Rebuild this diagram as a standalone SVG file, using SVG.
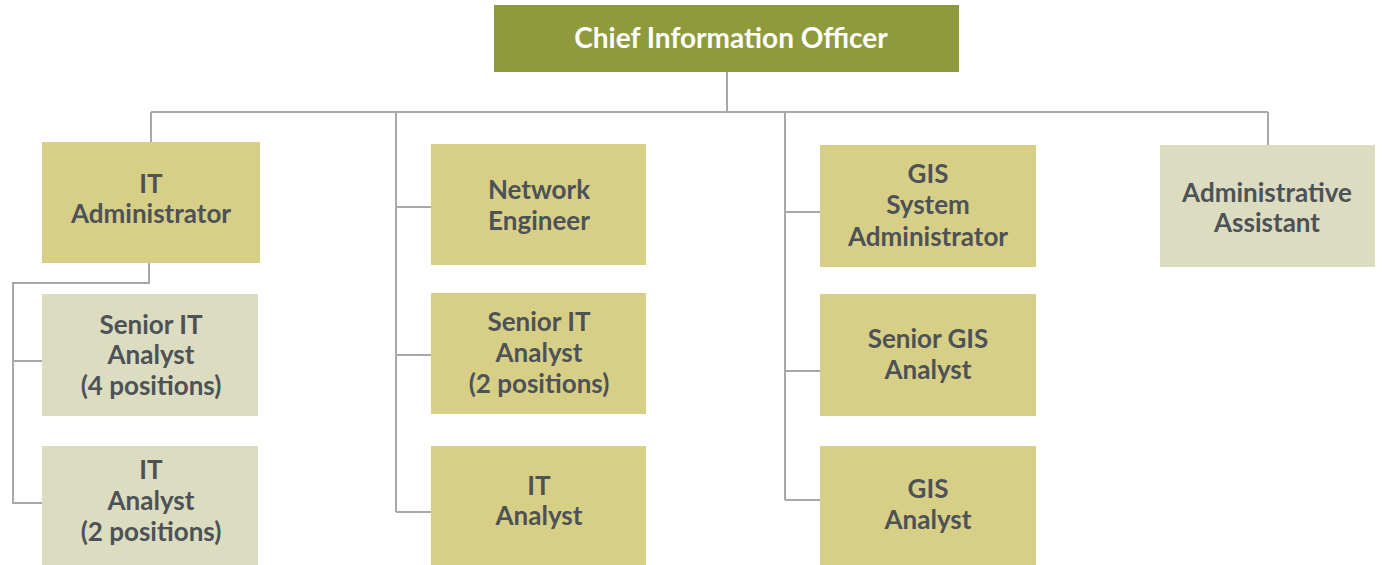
<svg xmlns="http://www.w3.org/2000/svg" width="1382" height="565" viewBox="0 0 1382 565">
<style>
.t{font-family:Lato,"Liberation Sans",sans-serif;font-weight:bold;font-size:26px;fill:#4d5257;text-anchor:middle}
.top{font-family:Lato,"Liberation Sans",sans-serif;font-weight:bold;font-size:28px;fill:#ffffff;text-anchor:middle}
.d{fill:#d8cf87}
.l{fill:#dcdcc0}
.c{fill:none;stroke:#a8a8a8;stroke-width:2}
</style>
<rect width="1382" height="565" fill="#ffffff"/>
<g id="connectors">
<path class="c" d="M727 72V112M151 112H1268M151 112V142M396 112V512M396 207H431M396 355H431M396 512H431M785 112V500M785 212H820M785 371H820M785 500H820M1268 112V145M149 263V283H13V503H42M13 361H42"/>
</g>
<g id="cio"><rect x="494" y="5" width="465" height="67" fill="#8e9a3c"/><text class="top" x="731" y="48">Chief Information Officer</text></g>
<g id="it-admin"><rect class="d" x="42" y="142" width="218" height="121"/><text class="t" x="151" y="193">IT</text><text class="t" x="151" y="223">Administrator</text></g>
<g id="senior-it-analyst-4"><rect class="l" x="42" y="294" width="216" height="122"/><text class="t" x="151" y="334">Senior IT</text><text class="t" x="151" y="364">Analyst</text><text class="t" x="151" y="395">(4 positions)</text></g>
<g id="it-analyst-2"><rect class="l" x="42" y="446" width="216" height="119"/><text class="t" x="151" y="479">IT</text><text class="t" x="151" y="510">Analyst</text><text class="t" x="151" y="541">(2 positions)</text></g>
<g id="network-engineer"><rect class="d" x="431" y="144" width="215" height="121"/><text class="t" x="539" y="199">Network</text><text class="t" x="539" y="230">Engineer</text></g>
<g id="senior-it-analyst-2"><rect class="d" x="431" y="293" width="215" height="121"/><text class="t" x="539" y="331">Senior IT</text><text class="t" x="539" y="362">Analyst</text><text class="t" x="539" y="393">(2 positions)</text></g>
<g id="it-analyst"><rect class="d" x="431" y="446" width="215" height="119"/><text class="t" x="539" y="495">IT</text><text class="t" x="539" y="525">Analyst</text></g>
<g id="gis-system-admin"><rect class="d" x="820" y="145" width="216" height="122"/><text class="t" x="928" y="183">GIS</text><text class="t" x="928" y="214">System</text><text class="t" x="928" y="246">Administrator</text></g>
<g id="senior-gis-analyst"><rect class="d" x="820" y="294" width="216" height="122"/><text class="t" x="928" y="348">Senior GIS</text><text class="t" x="928" y="379">Analyst</text></g>
<g id="gis-analyst"><rect class="d" x="820" y="446" width="216" height="119"/><text class="t" x="928" y="498">GIS</text><text class="t" x="928" y="529">Analyst</text></g>
<g id="admin-assistant"><rect class="l" x="1160" y="145" width="215" height="122"/><text class="t" x="1267" y="202">Administrative</text><text class="t" x="1267" y="232">Assistant</text></g>
</svg>
